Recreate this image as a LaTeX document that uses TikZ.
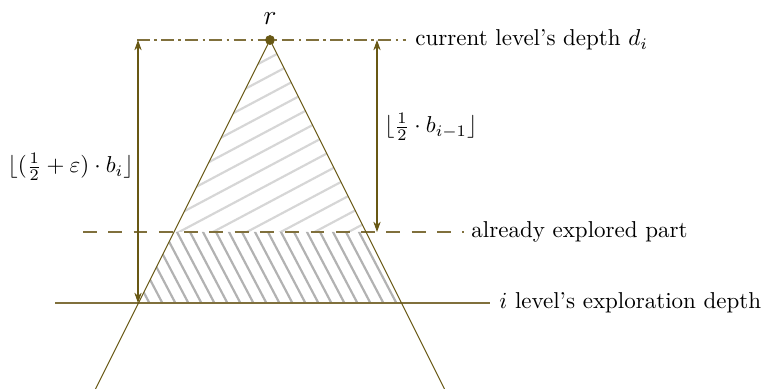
\documentclass[tikz,border=0pt]{standalone}
\usetikzlibrary{arrows.meta}
\definecolor{olv}{RGB}{104,88,20}
\definecolor{olvl}{RGB}{128,112,60}
\definecolor{hatchA}{RGB}{214,214,214}
\definecolor{hatchB}{RGB}{178,178,178}
\tikzset{
  edge/.style={draw=olv, line width=0.45pt},
  lvl/.style={draw=olvl, line width=0.55pt},
  dim/.style={draw=olv, line width=0.45pt, {Stealth[length=4.5pt,width=3.2pt]}-{Stealth[length=4.5pt,width=3.2pt]}},
  txt/.style={inner sep=0pt, anchor=west},
  dotnode/.style={circle, fill=olv, draw=olv, inner sep=0pt, minimum size=3.8pt},
}
\begin{document}
\begin{tikzpicture}[x=0.435pt,y=-0.435pt]
\useasboundingbox (0,0) rectangle (768,389);
% hatching upper part
\begin{scope}
  \clip (270,40) -- (174,232) -- (366,232) -- cycle;
  \foreach \y in {112,130,...,400} {
    \draw[hatchA, line width=0.95pt] (100,\y) -- (420,\y-170);
  }
\end{scope}
% hatching lower part
\begin{scope}
  \clip (174,232) -- (366,232) -- (401.5,303) -- (138.5,303) -- cycle;
  \foreach \x in {60,73,...,420} {
    \draw[hatchB, line width=0.95pt] (\x-10,213) -- (\x+50,327);
  }
\end{scope}
% coordinates
\coordinate (lb) at (95.5,389);
\coordinate (rb) at (444.5,389);
\coordinate (t0) at (137,40);
\coordinate (e0) at (83,232);
\coordinate (s0) at (55,303);
\coordinate (a1) at (138,40);
\coordinate (a2) at (138,303);
\coordinate (b1) at (377,40);
\coordinate (b2) at (377,232);
% labels
\node[txt] (cur) at (415,40) {current level's depth $d_i$};
\node[txt] (expl) at (471,232) {already explored part};
\node[txt] (ilev) at (499,303) {$i$ level's exploration depth};
\node[inner sep=0pt, anchor=east] (lab1) at (134,167) {$\lfloor(\frac{1}{2}+\varepsilon)\cdot b_i\rfloor$};
\node[inner sep=0pt, anchor=west] (lab2) at (384,127) {$\lfloor\frac{1}{2}\cdot b_{i-1}\rfloor$};
% level lines
\draw[lvl, dash pattern=on 5.5pt off 2pt on 1pt off 2pt] (t0) -- ([xshift=-4pt]cur.west);
\draw[lvl, dash pattern=on 6pt off 5pt] (e0) -- ([xshift=-3pt]expl.west);
\draw[lvl] (s0) -- ([xshift=-4pt]ilev.west);
% triangle
\node[dotnode] (r) at (270,40) {};
\node[anchor=south, inner sep=0pt] (rl) at (270,25) {\large $r$};
\draw[edge] (lb) -- (r.center) -- (rb);
% dimension arrows
\draw[dim] (a1) -- (a2);
\draw[dim] (b1) -- (b2);
\end{tikzpicture}
\end{document}
